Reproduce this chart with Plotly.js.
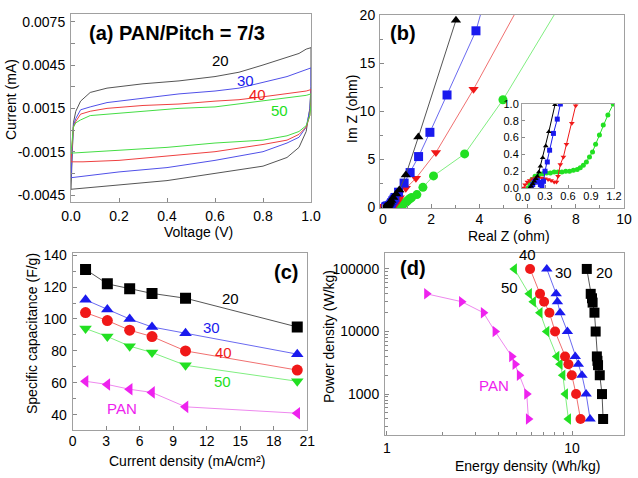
<!DOCTYPE html>
<html><head><meta charset="utf-8">
<script src="https://cdn.plot.ly/plotly-3.0.1.min.js"></script>
<style>html,body{margin:0;padding:0;background:#fff}#chart{width:638px;height:478px}</style>
</head><body><div id="chart"></div>
<script>
// ---------- (a) cyclic voltammetry ----------
const cvUpperV = [0,0.005,0.01,0.02,0.04,0.08,0.15,0.3,0.45,0.6,0.7,0.8,0.9,0.95,0.98,1.0];
const cvLowerV = [1.0,0.995,0.98,0.95,0.9,0.8,0.6,0.4,0.2,0.05,0];
const cv20Up  = [-0.0041,-0.0010,0.0005,0.0013,0.0020,0.0026,0.0029,0.0032,0.0034,0.0037,0.0040,0.0045,0.0050,0.0053,0.0056,0.0057];
const cv20Low = [0.0030,0.0015,-0.0001,-0.0012,-0.0019,-0.0025,-0.0030,-0.0035,-0.0038,-0.0040,-0.0041];
const cv30Up  = [-0.0033,-0.0008,0.0003,0.0008,0.0014,0.0016,0.0019,0.0022,0.0025,0.0027,0.0029,0.0033,0.0037,0.0040,0.0042,0.0043];
const cv30Low = [0.0028,0.0014,0.0002,-0.0005,-0.0009,-0.0015,-0.0021,-0.0026,-0.0029,-0.0032,-0.0033];
const cv40Up  = [-0.0022,-0.0005,0.0002,0.0006,0.0011,0.0013,0.0015,0.0017,0.0018,0.0020,0.0021,0.0023,0.0025,0.0026,0.0027,0.0028];
const cv40Low = [0.0020,0.0010,0.0002,-0.0003,-0.0007,-0.0010,-0.0015,-0.0018,-0.0021,-0.0022,-0.0022];
const cv50Up  = [-0.0016,-0.0004,0.0002,0.0005,0.0007,0.0010,0.0011,0.0013,0.0015,0.0016,0.0018,0.0020,0.0022,0.0023,0.0024,0.0025];
const cv50Low = [0.0018,0.0010,0.0003,-0.0001,-0.0004,-0.0007,-0.0009,-0.0012,-0.0014,-0.0015,-0.0016];
const voltTicks = [0,0.2,0.4,0.6,0.8,1.0];
const voltTickText = ['0.0','0.2','0.4','0.6','0.8','1.0'];
const curTicks = [-0.0045,-0.0015,0.0015,0.0045,0.0075];
const curTickText = ['-0.0045','-0.0015','0.0015','0.0045','0.0075'];

// ---------- (b) Nyquist ----------
const nyqX20 = [0.10,0.12,0.14,0.16,0.18,0.20,0.22,0.24,0.27,0.31,0.35,0.43,0.55,0.68,0.95,1.47,3.03];
const nyqY20 = [0.00,0.02,0.05,0.08,0.11,0.14,0.19,0.26,0.36,0.50,0.67,0.99,1.35,1.78,3.35,7.3,19.5];
const nyqX30 = [0.12,0.14,0.16,0.18,0.20,0.22,0.24,0.26,0.28,0.30,0.33,0.36,0.41,0.46,0.50,0.65,0.88,1.13,1.48,1.95,2.66,3.86,4.15];
const nyqY30 = [0.00,0.04,0.07,0.09,0.09,0.07,0.04,0.03,0.08,0.20,0.31,0.45,0.65,0.82,1.00,1.55,2.5,3.6,5.27,7.8,11.7,18.4,21];
const nyqX40 = [0.02,0.04,0.07,0.10,0.14,0.18,0.22,0.26,0.30,0.34,0.38,0.42,0.45,0.47,0.50,0.54,0.58,0.65,0.70,0.95,1.37,2.2,3.76,5.65];
const nyqY40 = [0.00,0.04,0.07,0.09,0.11,0.12,0.12,0.12,0.11,0.10,0.09,0.07,0.07,0.14,0.28,0.37,0.52,0.77,0.98,1.95,3.0,5.7,12.3,21];
const nyqX50 = [0.08,0.10,0.13,0.17,0.22,0.27,0.32,0.37,0.42,0.47,0.52,0.57,0.62,0.67,0.72,0.76,0.80,0.84,0.88,0.92,0.96,1.01,1.06,1.12,1.19,1.41,1.66,2.1,3.39,4.98,7.33];
const nyqY50 = [0.00,0.05,0.10,0.14,0.16,0.17,0.18,0.18,0.19,0.19,0.19,0.20,0.20,0.21,0.22,0.24,0.27,0.31,0.37,0.43,0.52,0.63,0.75,0.87,1.00,1.30,2.06,3.25,5.55,11.2,21];
const insetXTicks = [0.3,0.6,0.9,1.2];
const insetYTicks = [0,0.2,0.4,0.6,0.8,1.0];

// ---------- (c) capacitance ----------
const curDensity = [1.15,3.1,5.1,7.1,10.1,20.1];
const cap20  = [131,122,119,116,113,95];
const cap30  = [112,106,100,95,91,78];
const cap40  = [104,99,93,89,80,68];
const cap50  = [94,89,83,79,71,61];
const capPAN = [61,59,56,54,45,41];

// ---------- (d) Ragone ----------
const pow20 = [100000,40000,34000,29000,20000,10000,4000,3400,2900,2000,1000,400];
const en20  = [12.0,12.6,12.8,12.9,13.2,13.4,13.6,13.7,13.8,14.1,14.5,14.7];
const powAll = [100000,40000,30000,20000,10000,4000,3000,2000,1000,400];
const en30 = [7.30,8.20,8.33,8.61,9.43,10.4,10.8,11.3,11.9,12.5];
const en40 = [5.93,6.71,7.06,7.54,8.09,9.16,9.55,9.96,10.5,11.1];
const en50 = [4.88,5.88,6.18,6.71,7.30,8.27,8.61,8.91,9.20,9.55];
const powPAN = [40000,30000,20000,10000,4000,3000,2000,1000,400];
const enPAN  = [1.64,2.53,3.32,3.84,4.72,4.92,5.19,5.69,5.81];
const enTicks = [1,10];
const enMinorTicks = [2,3,4,5,6,7,8,9,20];
const powTicks = [1000,10000,100000];
const powMinorTicks = [300,400,500,600,700,800,900,2000,3000,4000,5000,6000,7000,8000,9000,20000,30000,40000,50000,60000,70000,80000,90000];

// ---------- layout helpers ----------
const W = 638, H = 478;
const xd = (a,b) => [a/W, b/W];
const yd = (top,bot) => [1-bot/H, 1-top/H];
const FONT = 'Arial, "Liberation Sans", sans-serif';
const C = {k:'#000000', b:'#1a1aee', r:'#f01818', g:'#22e022', m:'#ee22ee'};
const L = {k:'#555555', b:'#6a6af0', r:'#f07070', g:'#80ee80', m:'#ee88ee'};
const base = {showline:true, linecolor:'#a0a0a0', linewidth:1, mirror:true, ticks:'inside',
  tickcolor:'#888', ticklen:4, zeroline:false, showgrid:false, fixedrange:true,
  tickfont:{size:14, color:'#000', family:FONT}};
const minorOf = (vals) => ({tickmode:'array', tickvals:vals, ticks:'inside', ticklen:3, tickcolor:'#888', showgrid:false});

function tr(x,y,xa,ya,sym,size,mc,lc,mode){
  return {type:'scatter', x:x, y:y, xaxis:xa, yaxis:ya, mode:mode||'lines+markers',
    marker:{symbol:sym, size:size, color:mc, line:{width:0}}, line:{color:lc, width:1},
    showlegend:false, hoverinfo:'skip', cliponaxis:true};
}
const data = [];
// (a)
[[cv20Up,cv20Low,L.k],[cv30Up,cv30Low,'#5050e8'],[cv40Up,cv40Low,'#ee4040'],[cv50Up,cv50Low,'#44dd44']]
  .forEach(([u,lo,c]) => data.push(tr(cvUpperV.concat(cvLowerV), u.concat(lo), 'x','y','circle',1,c,c,'lines')));
// (b) main + inset
const nyq = [[nyqX50,nyqY50,'circle',C.g,L.g],[nyqX40,nyqY40,'triangle-down',C.r,L.r],
             [nyqX30,nyqY30,'square',C.b,L.b],[nyqX20,nyqY20,'triangle-up',C.k,L.k]];
nyq.forEach(([x,y,s,mc,lc]) => data.push(tr(x,y,'x2','y2',s,9,mc,lc)));
nyq.forEach(([x,y,s,mc,lc]) => data.push(tr(x,y,'x3','y3',s,5,mc,mc)));
// (c)
[[cap20,'square',C.k,L.k],[cap30,'triangle-up',C.b,L.b],[cap40,'circle',C.r,L.r],
 [cap50,'triangle-down',C.g,L.g],[capPAN,'triangle-left',C.m,L.m]]
  .forEach(([y,s,mc,lc]) => data.push(tr(curDensity,y,'x4','y4',s,11,mc,lc)));
// (d)
data.push(tr(en20,pow20,'x5','y5','square',10,C.k,L.k));
data.push(tr(en30,powAll,'x5','y5','triangle-up',10,C.b,L.b));
data.push(tr(en50,powAll,'x5','y5','triangle-left',10,C.g,L.g));
data.push(tr(en40,powAll,'x5','y5','circle',10,C.r,L.r));
data.push(tr(enPAN,powPAN,'x5','y5','triangle-right',10,C.m,L.m));

function ann(text,px,py,o){
  o = o||{};
  return Object.assign({text:text, x:px/W, y:1-py/H, xref:'paper', yref:'paper', showarrow:false,
    xanchor:'center', yanchor:'middle', font:{family:FONT, size:14, color:'#000'}}, o);
}
const bold = (s) => ({family:FONT, size:s, color:'#000', weight:'bold'});
const lab = (c) => ({family:FONT, size:15, color:c});
const annotations = [
  ann('<b>(a) PAN/Pitch = 7/3</b>', 87, 33, {xanchor:'left', font:bold(20)}),
  ann('20', 220, 61, {font:lab('#000')}),
  ann('30', 245, 80, {font:lab(C.b)}),
  ann('40', 257, 94, {font:lab(C.r)}),
  ann('50', 279, 110, {font:lab(C.g)}),
  ann('Voltage (V)', 198, 232),
  ann('Current (mA)', 11, 100, {textangle:-90}),
  ann('<b>(b)</b>', 403, 33, {font:bold(20)}),
  ann('Im Z (ohm)', 352, 109, {textangle:-90}),
  ann('Real Z (ohm)', 509, 236),
  ann('0.0', 522, 197, {font:{family:FONT,size:11,color:'#000'}}),
  ann('<b>(c)</b>', 286, 272, {font:bold(20)}),
  ann('20', 230, 298, {font:lab('#000')}),
  ann('30', 211, 327, {font:lab(C.b)}),
  ann('40', 223, 352, {font:lab(C.r)}),
  ann('50', 222, 381, {font:lab(C.g)}),
  ann('PAN', 122, 408, {font:lab(C.m)}),
  ann('Specific capacitance (F/g)', 32, 334, {textangle:-90}),
  ann('Current density (mA/cm²)', 187, 461),
  ann('<b>(d)</b>', 413, 268, {font:bold(20)}),
  ann('40', 527, 254, {font:lab('#000')}),
  ann('30', 563, 272, {font:lab('#000')}),
  ann('20', 604, 272, {font:lab('#000')}),
  ann('50', 509, 287, {font:lab('#000')}),
  ann('PAN', 494, 385, {font:lab(C.m)}),
  ann('Power density (W/kg)', 329, 337, {textangle:-90}),
  ann('Energy density (Wh/kg)', 528, 466)
];

const layout = {
  width:W, height:H, margin:{l:0,r:0,t:0,b:0}, paper_bgcolor:'#fff', plot_bgcolor:'#fff',
  font:{family:FONT, color:'#000'}, showlegend:false,
  xaxis: Object.assign({}, base, {domain:xd(71,311), range:[0,1], tickvals:voltTicks, ticktext:voltTickText, anchor:'y', ticklabelstandoff:1}),
  yaxis: Object.assign({}, base, {domain:yd(14,201.7), range:[-0.00496,0.00803], tickvals:curTicks, ticktext:curTickText, anchor:'x',
     minor:{dtick:0.0015, tick0:0, ticks:'inside', ticklen:4, tickcolor:'#888'}, ticklabelstandoff:2}),
  xaxis2: Object.assign({}, base, {domain:xd(380,624), range:[-0.12,10], dtick:2, tick0:0, anchor:'y2',
     minor:{dtick:1, ticks:'inside', ticklen:3, tickcolor:'#888'}, ticklabelstandoff:-2}),
  yaxis2: Object.assign({}, base, {domain:yd(15,208), range:[-0.1,20.05], dtick:5, tick0:0, anchor:'x2',
     minor:{dtick:2.5, ticks:'inside', ticklen:3, tickcolor:'#888'}, ticklabelstandoff:1}),
  xaxis3: Object.assign({}, base, {domain:xd(522,614), range:[0,1.2], tickvals:insetXTicks, tickformat:'.1f', anchor:'y3',
     tickfont:{size:11,color:'#000',family:FONT}, ticklen:3, ticklabelstandoff:-2,
     minor:{tickmode:'array', tickvals:[0], ticks:'inside', ticklen:3, tickcolor:'#888'}}),
  yaxis3: Object.assign({}, base, {domain:yd(104,188), range:[0,1], tickvals:insetYTicks, tickformat:'.1f', anchor:'x3',
     tickfont:{size:11,color:'#000',family:FONT}, ticklen:3}),
  xaxis4: Object.assign({}, base, {domain:xd(72.7,307.3), range:[0,21], dtick:3, tick0:0, anchor:'y4', ticklabelstandoff:-2}),
  yaxis4: Object.assign({}, base, {domain:yd(252.7,430), range:[30.5,141.5], dtick:20, tick0:0, anchor:'x4',
     minor:{dtick:10, ticks:'inside', ticklen:3, tickcolor:'#888'}, ticklabelstandoff:2}),
  xaxis5: Object.assign({}, base, {domain:xd(385,624), type:'log', range:[-0.01,1.28], tickvals:enTicks, ticktext:['1','10'], anchor:'y5',
     minor:minorOf(enMinorTicks), ticklabelstandoff:0}),
  yaxis5: Object.assign({}, base, {domain:yd(253,435), type:'log', range:[2.346,5.255], tickvals:powTicks, ticktext:['1000','10000','100000'], anchor:'x5',
     minor:minorOf(powMinorTicks), ticklabelstandoff:2}),
  annotations: annotations
};
Plotly.newPlot('chart', data, layout, {staticPlot:true, displayModeBar:false});
</script></body></html>
